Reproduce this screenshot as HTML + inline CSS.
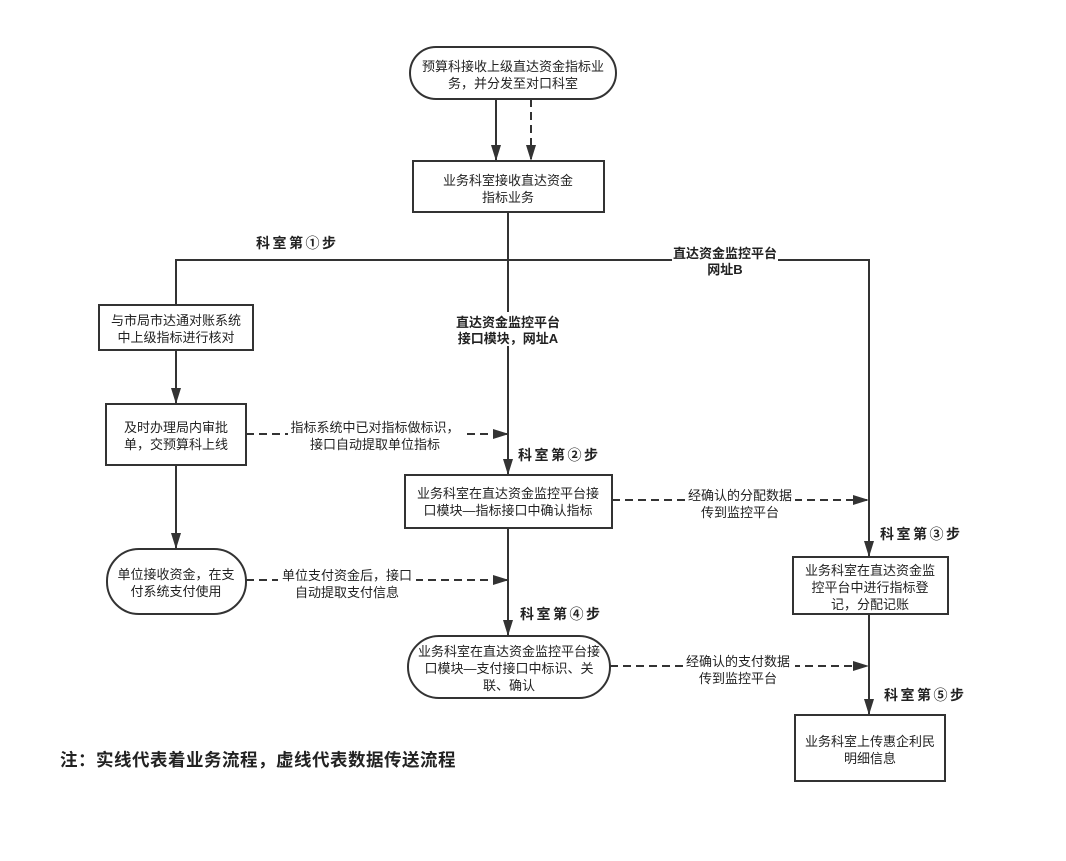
<!DOCTYPE html>
<html><head><meta charset="utf-8"><style>
html,body{margin:0;padding:0;background:#fff}
svg{display:block}
text{font-family:"Liberation Sans","Noto Sans CJK SC",sans-serif;font-size:13px;fill:#222}
.b{font-weight:bold;font-size:13px}
.s{font-size:14px;letter-spacing:2.5px}
</style></head><body>
<svg width="1066" height="861" viewBox="0 0 1066 861" xmlns="http://www.w3.org/2000/svg">
<defs>
<marker id="d" markerWidth="16" markerHeight="10" refX="15" refY="5" orient="auto" markerUnits="userSpaceOnUse"><path d="M0,0 L16,5 L0,10 z" fill="#333"/></marker></defs>
<g stroke="#333" stroke-width="2" fill="none">
<rect x="410" y="47" width="206" height="52" rx="26"/>
<rect x="413" y="161" width="191" height="51"/>
<rect x="99" y="305" width="154" height="45"/>
<rect x="106" y="404" width="140" height="61"/>
<rect x="107" y="549" width="139" height="65" rx="32"/>
<rect x="405" y="475" width="207" height="53"/>
<rect x="408" y="636" width="202" height="62" rx="31"/>
<rect x="793" y="557" width="155" height="57"/>
<rect x="795" y="715" width="150" height="66"/>
<line x1="496" y1="99" x2="496" y2="160" marker-end="url(#d)"/>
<line x1="531" y1="99" x2="531" y2="160" stroke-dasharray="8,5" marker-end="url(#d)"/>
<polyline points="508,212 508,260"/>
<polyline points="176,304 176,260 869,260 869,556" marker-end="url(#d)"/>
<line x1="508" y1="260" x2="508" y2="474" marker-end="url(#d)"/>
<line x1="176" y1="350" x2="176" y2="403" marker-end="url(#d)"/>
<line x1="176" y1="465" x2="176" y2="548" marker-end="url(#d)"/>
<line x1="508" y1="528" x2="508" y2="635" marker-end="url(#d)"/>
<line x1="869" y1="614" x2="869" y2="714" marker-end="url(#d)"/>
<g stroke-dasharray="8,5">
<line x1="246" y1="434" x2="508" y2="434" marker-end="url(#d)"/>
<line x1="246" y1="580" x2="508" y2="580" marker-end="url(#d)"/>
<line x1="612" y1="500" x2="868" y2="500" marker-end="url(#d)"/>
<line x1="610" y1="666" x2="868" y2="666" marker-end="url(#d)"/>
</g>
</g>
<g fill="#fff">
<rect x="456" y="312" width="106" height="34"/>
<rect x="672" y="245" width="106" height="32"/>
<rect x="288" y="420" width="174" height="32"/>
<rect x="278" y="566" width="138" height="32"/>
<rect x="685" y="486" width="110" height="32"/>
<rect x="685" y="652" width="110" height="32"/>
</g>
<g text-anchor="middle">
<text x="513" y="71">预算科接收上级直达资金指标业</text><text x="513" y="88">务，并分发至对口科室</text>
<text x="508" y="185">业务科室接收直达资金</text><text x="508" y="202">指标业务</text>
<text x="176" y="325">与市局市达通对账系统</text><text x="176" y="342">中上级指标进行核对</text>
<text x="176" y="432">及时办理局内审批</text><text x="176" y="449">单，交预算科上线</text>
<text x="176" y="579">单位接收资金，在支</text><text x="176" y="596">付系统支付使用</text>
<text x="508" y="498">业务科室在直达资金监控平台接</text><text x="508" y="515">口模块—指标接口中确认指标</text>
<text x="509" y="656">业务科室在直达资金监控平台接</text><text x="509" y="673">口模块—支付接口中标识、关</text><text x="509" y="690">联、确认</text>
<text x="870" y="575">业务科室在直达资金监</text><text x="870" y="592">控平台中进行指标登</text><text x="870" y="609">记，分配记账</text>
<text x="870" y="746">业务科室上传惠企利民</text><text x="870" y="763">明细信息</text>
<text x="375" y="432">指标系统中已对指标做标识，</text><text x="375" y="449">接口自动提取单位指标</text>
<text x="347" y="580">单位支付资金后，接口</text><text x="347" y="597">自动提取支付信息</text>
<text x="740" y="500">经确认的分配数据</text><text x="740" y="517">传到监控平台</text>
<text x="738" y="666">经确认的支付数据</text><text x="738" y="683">传到监控平台</text>
<text class="b" x="508" y="327">直达资金监控平台</text><text class="b" x="508" y="343">接口模块，网址A</text>
<text class="b" x="725" y="258">直达资金监控平台</text><text class="b" x="725" y="274">网址B</text>
</g>
<text class="b s" x="256" y="248">科室第①步</text>
<text class="b s" x="518" y="460">科室第②步</text>
<text class="b s" x="880" y="539">科室第③步</text>
<text class="b s" x="520" y="619">科室第④步</text>
<text class="b s" x="884" y="700">科室第⑤步</text>
<text x="60" y="766" style="font-size:17.5px;font-weight:bold;letter-spacing:0.5px">注：实线代表着业务流程，虚线代表数据传送流程</text>
</svg>
</body></html>
